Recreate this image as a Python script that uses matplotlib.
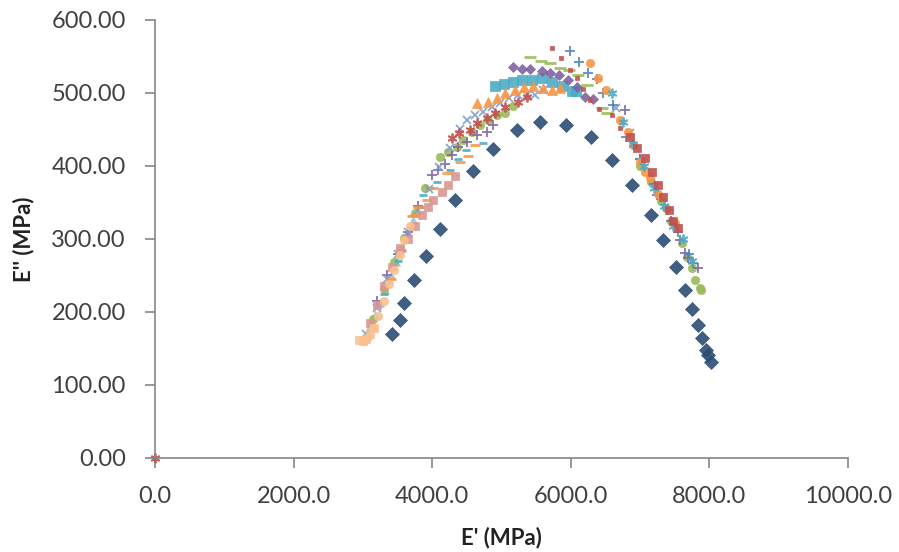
import matplotlib
matplotlib.use('Agg')
import matplotlib.pyplot as plt
from matplotlib.ticker import FormatStrFormatter, MultipleLocator

plt.rcParams['font.family'] = ['Lato', 'DejaVu Sans']

# E' (MPa), E'' (MPa) for each run
blue_diamond_x = [3420, 3535, 3590, 3737, 3910, 4110, 4330, 4590, 4880, 5220, 5555, 5930, 6290,
                  6595, 6880, 7160, 7330, 7520, 7650, 7750, 7835, 7890, 7950, 7980, 8020]
blue_diamond_y = [170, 189, 212, 244, 277, 314, 353, 393, 423, 449, 460, 456, 440,
                  408, 374, 333, 299, 262, 230, 204, 182, 164, 148, 141, 132]

red_dash_x = [5730, 5860, 5990, 6090, 6180, 6280, 6400, 6595, 6710]
red_dash_y = [562, 548, 532, 520, 505, 490, 478, 470, 452]

red_square_x = [6850, 6960, 7070, 7170, 7258, 7330, 7417, 7480, 7547]
red_square_y = [440, 425, 411, 392, 374, 358, 340, 325, 315]

blue_plus_x = [5990, 6120, 6250, 6380, 6465, 6610, 6800, 7000, 7200, 7400, 7550, 7700]
blue_plus_y = [557, 542, 527, 519, 500, 484, 440, 410, 375, 340, 310, 280]

purple_diamond_x = [5165, 5295, 5410, 5585, 5700, 5830, 5960, 6090, 6205, 6320]
purple_diamond_y = [536, 533, 533, 530, 528, 525, 518, 508, 495, 492]

cyan_square_x = [4906, 5036, 5165, 5295, 5440, 5585, 5730, 5873, 6017, 6075]
cyan_square_y = [510, 512, 515, 518, 518, 520, 515, 510, 503, 503]

orange_tri_x = [4646, 4805, 4935, 5050, 5195, 5325, 5455, 5600, 5730, 5845]
orange_tri_y = [486, 488, 493, 500, 504, 508, 510, 507, 504, 507]

green_dash_x = [5410, 5570, 5700, 5845, 5975, 6100, 6235, 6450, 6520]
green_dash_y = [549, 544, 541, 534, 532, 525, 511, 479, 472]

orange_circle_x = [6277, 6390, 6510, 6710, 6825, 6900, 7000, 7070, 7140, 7260, 7380, 7500]
orange_circle_y = [541, 520, 504, 463, 447, 429, 405, 392, 383, 362, 343, 322]

cyan_star_x = [6600, 6750, 6900, 7050, 7200, 7350, 7480, 7620, 7750]
cyan_star_y = [500, 460, 430, 400, 370, 345, 318, 300, 270]

green_circle_x = [3150, 3300, 3450, 3600, 3750, 3900, 4110, 4230, 4360, 4445, 4575, 4690, 4805,
                  4935, 5050, 5165, 7000, 7150, 7300, 7450, 7600, 7680, 7750, 7790, 7860, 7880]
green_circle_y = [190, 232, 268, 302, 335, 370, 412, 419, 426, 436, 447, 456, 463,
                  470, 473, 482, 400, 378, 352, 325, 294, 275, 260, 244, 233, 230]

purple_plus_x = [3200, 3350, 3500, 3650, 3800, 4000, 4085, 4185, 4290, 4370, 4500, 4650, 4790, 4880,
                 6780, 7000, 7250, 7450, 7575, 7650, 7690, 7765, 7835]
purple_plus_y = [215, 250, 280, 310, 345, 388, 395, 403, 415, 426, 433, 442, 447, 456,
                 477, 410, 360, 325, 299, 281, 274, 267, 260]

blue_x_x = [3050, 3200, 3350, 3500, 3650, 3800, 3950, 4100, 4250, 4400, 4500, 4620, 4735, 4865,
            4980, 5110, 5240, 5370, 5485, 5600, 6650, 6850]
blue_x_y = [170, 205, 245, 280, 310, 340, 368, 398, 425, 450, 463, 470, 474, 481,
            486, 493, 497, 497, 497, 504, 480, 445]

red_star_x = [0, 4290, 4390, 4545, 4650, 4790, 4905, 5050, 5240, 5370]
red_star_y = [0, 438, 445, 449, 459, 466, 472, 481, 488, 495]

cyan_dash_x = [3300, 3500, 3700, 3825, 3870, 3970, 4070, 4250, 4370, 4490, 4735]
cyan_dash_y = [225, 270, 315, 344, 360, 370, 378, 395, 409, 422, 432]

orange_dash_x = [3400, 3550, 3710, 3750, 3795, 3925, 4010, 4215, 4400, 4515, 4620]
orange_dash_y = [245, 285, 331, 333, 344, 353, 370, 390, 405, 414, 429]

pink_square_x = [3100, 3200, 3300, 3420, 3535, 3650, 3750, 3850, 3940, 4010, 4140, 4230, 4330]
pink_square_y = [185, 210, 235, 262, 288, 300, 318, 333, 344, 353, 364, 374, 386]

lightblue_tri_x = [3000, 3060, 3120, 3180, 3250, 3320, 3400, 3480, 3560, 3640, 3720]
lightblue_tri_y = [165, 172, 182, 196, 212, 230, 250, 268, 288, 308, 326]

peach_circle_x = [3020, 3080, 3150, 3220, 3300, 3380, 3450, 3530, 3600, 3680]
peach_circle_y = [160, 166, 178, 195, 215, 238, 258, 278, 298, 318]

peach_square_x = [2950, 3000, 3050, 3100, 3160]
peach_square_y = [162, 160, 163, 170, 178]

series = [
    (lightblue_tri_x, lightblue_tri_y, '^', '#93CDDD', 6),
    (green_circle_x, green_circle_y, 'o', '#9BBB59', 6),
    (purple_plus_x, purple_plus_y, '+', '#8064A2', 7),
    (blue_x_x, blue_x_y, 'x', '#7F9FCF', 6),
    (red_star_x, red_star_y, (6, 2, 0), '#C0504D', 7),
    (cyan_dash_x, cyan_dash_y, '_', '#4BACC6', 6),
    (orange_dash_x, orange_dash_y, '_', '#F79646', 7),
    (pink_square_x, pink_square_y, 's', '#D99694', 6),
    (peach_circle_x, peach_circle_y, 'o', '#FAC090', 6),
    (peach_square_x, peach_square_y, 's', '#FAC090', 6),
    (cyan_square_x, cyan_square_y, 's', '#4BACC6', 7),
    (orange_tri_x, orange_tri_y, '^', '#F79646', 7),
    (purple_diamond_x, purple_diamond_y, 'D', '#8064A2', 5),
    (green_dash_x, green_dash_y, '_', '#9BBB59', 8),
    (red_dash_x, red_dash_y, 's', '#C0504D', 3.5),
    (blue_plus_x, blue_plus_y, '+', '#4F81BD', 7),
    (orange_circle_x, orange_circle_y, 'o', '#F79646', 6),
    (cyan_star_x, cyan_star_y, (6, 2, 0), '#4BACC6', 7),
    (red_square_x, red_square_y, 's', '#C0504D', 6),
    (blue_diamond_x, blue_diamond_y, 'D', '#2C4D75', 7.5),
]

fig = plt.figure(figsize=(8.99, 5.52), dpi=100)
ax = fig.add_axes([0.1724, 0.1703, 0.7709, 0.7935])

for x, y, m, c, s in series:
    if m in ('+', 'x', '_') or isinstance(m, tuple):
        ax.plot(x, y, linestyle='none', marker=m, color=c, markersize=s,
                markeredgewidth=2 if m == '_' else 1.3, alpha=0.9, clip_on=False)
    else:
        ax.plot(x, y, linestyle='none', marker=m, color=c, markersize=s,
                markeredgecolor=c, markeredgewidth=0.5, alpha=0.9, clip_on=False)

ax.set_xlim(0, 10000)
ax.set_ylim(0, 600)
ax.xaxis.set_major_locator(MultipleLocator(2000))
ax.yaxis.set_major_locator(MultipleLocator(100))
ax.xaxis.set_major_formatter(FormatStrFormatter('%.1f'))
ax.yaxis.set_major_formatter(FormatStrFormatter('%.2f'))

for side in ('top', 'right'):
    ax.spines[side].set_visible(False)
for side in ('left', 'bottom'):
    ax.spines[side].set_color('#868686')
    ax.spines[side].set_linewidth(1.2)
ax.tick_params(direction='out', length=7, width=1.2, color='#868686',
               labelsize=17, labelcolor='#404040')
ax.tick_params(axis='y', pad=14)
ax.tick_params(axis='x', pad=13)

ax.set_xlabel("E' (MPa)", fontsize=16, fontweight='bold', color='#222222', labelpad=14)
ax.set_ylabel("E'' (MPa)", fontsize=16, fontweight='bold', color='#222222', labelpad=12)

fig.savefig('out.png', dpi=100)
